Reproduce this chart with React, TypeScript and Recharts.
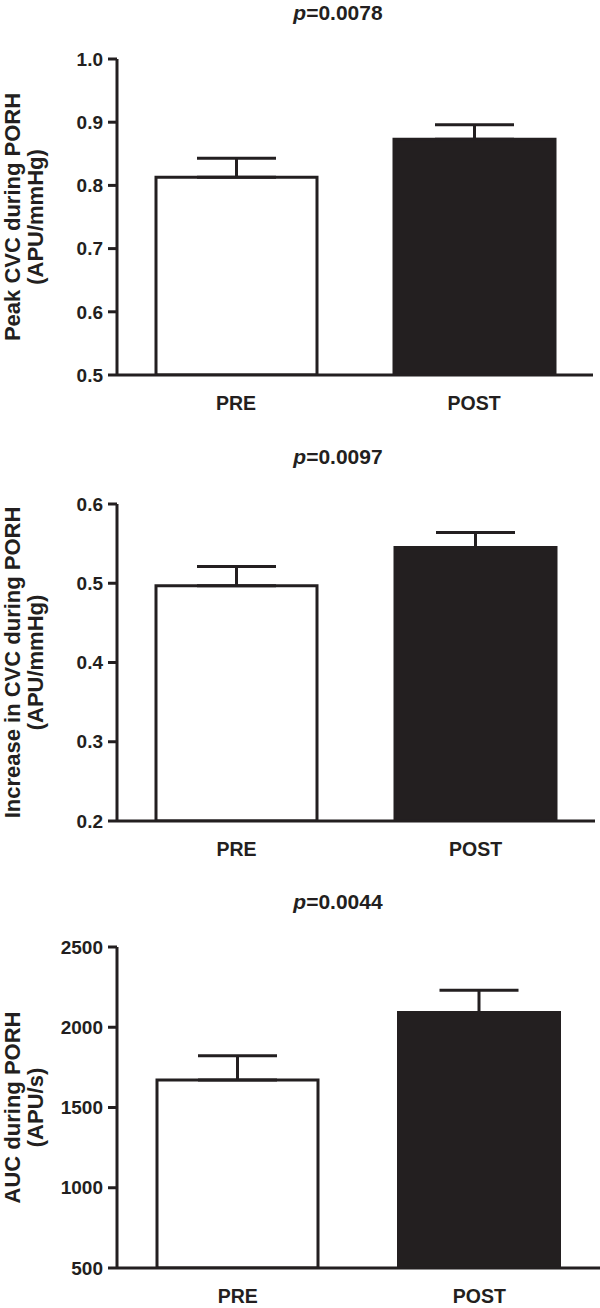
import React from 'react';
import { BarChart, Bar, XAxis, YAxis, ErrorBar, Cell } from 'recharts';

const groups = ['PRE', 'POST'];
const peakCvc = [0.813, 0.873];
const peakCvcSem = [0.030, 0.023];
const incCvc = [0.497, 0.545];
const incCvcSem = [0.024, 0.019];
const auc = [1671, 2092];
const aucSem = [151, 139];
const peakTicks = [0.5, 0.6, 0.7, 0.8, 0.9, 1.0];
const incTicks = [0.2, 0.3, 0.4, 0.5, 0.6];
const aucTicks = [500, 1000, 1500, 2000, 2500];
const pValues = ['0.0078', '0.0097', '0.0044'];
const fills = ['#ffffff', '#231f20'];

const INK = '#231f20';
const FONT = '"Liberation Sans", Arial, Helvetica, sans-serif';

const makeData = (vals: number[], sems: number[]) =>
  groups.map((g, i) => ({ group: g, value: vals[i], err: [0, sems[i]] }));

const XTick = (props: any) => {
  const { x, y, payload } = props;
  return (
    <text x={x} y={y + 35} textAnchor="middle" fontSize={19.5} fontWeight="bold" fill={INK} fontFamily={FONT}>
      {payload.value}
    </text>
  );
};

const YLabel = (props: any) => {
  const { viewBox, lines } = props;
  const cy = viewBox ? viewBox.y + viewBox.height / 2 : 0;
  return (
    <g>
      {lines.map((l: string, i: number) => (
        <text
          key={i}
          transform={`translate(${20 + i * 23}, ${cy}) rotate(-90)`}
          textAnchor="middle"
          fontSize={22}
          fontWeight="bold"
          fill={INK}
          fontFamily={FONT}
        >
          {l}
        </text>
      ))}
    </g>
  );
};

type PanelProps = {
  top: number;
  height: number;
  plotTop: number;
  plotHeight: number;
  right: number;
  titleY: number;
  pValue: string;
  data: any[];
  domain: [number, number];
  ticks: number[];
  fmt: (v: number) => string;
  lines: string[];
};

const Panel = (p: PanelProps) => {
  const xAxisH = 40;
  const bottom = p.height - p.plotTop - p.plotHeight - xAxisH;
  return (
    <>
      <div
        style={{
          position: 'absolute',
          left: 238,
          width: 200,
          top: p.titleY - 11,
          textAlign: 'center',
          fontFamily: FONT,
          fontWeight: 'bold',
          fontSize: 21,
          lineHeight: '21px',
          color: INK,
          whiteSpace: 'nowrap',
        }}
      >
        <i>p</i>={p.pValue}
      </div>
      <div style={{ position: 'absolute', left: 0, top: p.top, width: 600, height: p.height }}>
        <BarChart
          width={600}
          height={p.height}
          data={p.data}
          margin={{ top: p.plotTop, right: p.right, bottom: bottom, left: 0 }}
        >
          <XAxis
            dataKey="group"
            height={xAxisH}
            axisLine={{ stroke: INK, strokeWidth: 3 }}
            tickLine={false}
            tickSize={0}
            tickMargin={0}
            tick={<XTick />}
            interval={0}
          />
          <YAxis
            type="number"
            width={117}
            domain={p.domain}
            ticks={p.ticks}
            allowDataOverflow
            axisLine={{ stroke: INK, strokeWidth: 3 }}
            tickLine={{ stroke: INK, strokeWidth: 3 }}
            tickSize={9}
            tickMargin={5}
            tickFormatter={p.fmt}
            tick={{ fontSize: 19, fontWeight: 'bold', fill: INK, fontFamily: FONT }}
            label={<YLabel lines={p.lines} />}
          />
          <Bar dataKey="value" barSize={161} stroke={INK} strokeWidth={3} isAnimationActive={false}>
            {p.data.map((_, i) => (
              <Cell key={i} fill={fills[i]} />
            ))}
            <ErrorBar dataKey="err" width={39.5} stroke={INK} strokeWidth={3} direction="y" />
          </Bar>
        </BarChart>
      </div>
    </>
  );
};

export default function App() {
  return (
    <div style={{ position: 'absolute', left: 0, top: 0, width: 600, height: 1308, background: '#fff', overflow: 'hidden' }}>
      <Panel
        top={0}
        height={440}
        plotTop={59}
        plotHeight={316}
        right={7}
        titleY={12.5}
        pValue={pValues[0]}
        data={makeData(peakCvc, peakCvcSem)}
        domain={[0.5, 1.0]}
        ticks={peakTicks}
        fmt={(v) => v.toFixed(1)}
        lines={['Peak CVC during PORH', '(APU/mmHg)']}
      />
      <Panel
        top={440}
        height={440}
        plotTop={64}
        plotHeight={317}
        right={5}
        titleY={457}
        pValue={pValues[1]}
        data={makeData(incCvc, incCvcSem)}
        domain={[0.2, 0.6]}
        ticks={incTicks}
        fmt={(v) => v.toFixed(1)}
        lines={['Increase in CVC during PORH', '(APU/mmHg)']}
      />
      <Panel
        top={880}
        height={428}
        plotTop={67}
        plotHeight={321}
        right={0}
        titleY={902}
        pValue={pValues[2]}
        data={makeData(auc, aucSem)}
        domain={[500, 2500]}
        ticks={aucTicks}
        fmt={(v) => String(v)}
        lines={['AUC during PORH', '(APU/s)']}
      />
    </div>
  );
}
